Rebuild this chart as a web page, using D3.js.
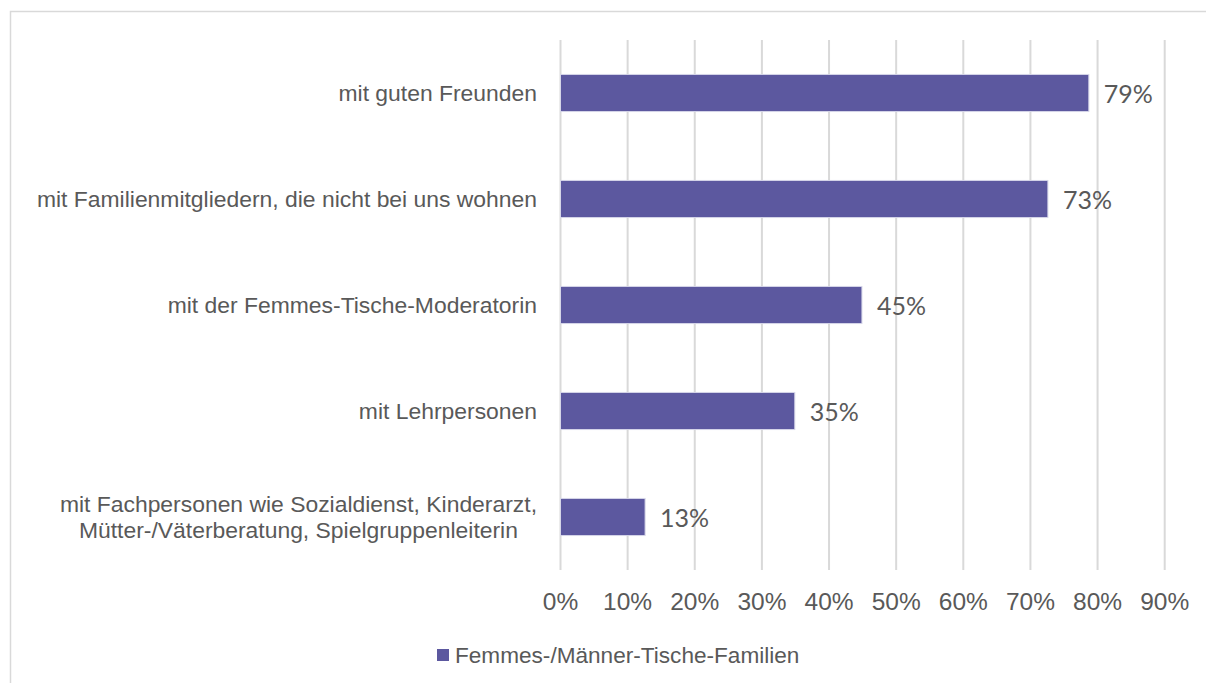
<!DOCTYPE html>
<html><head><meta charset="utf-8">
<script src="https://cdn.jsdelivr.net/npm/d3@7"></script>
<style>body{margin:0;background:#fff}</style>
</head><body>
<svg id="c" width="1206" height="683"></svg>
<script>
const categories = [
  ["mit guten Freunden"],
  ["mit Familienmitgliedern, die nicht bei uns wohnen"],
  ["mit der Femmes-Tische-Moderatorin"],
  ["mit Lehrpersonen"],
  ["mit Fachpersonen wie Sozialdienst, Kinderarzt,", "Mütter-/Väterberatung, Spielgruppenleiterin"]
];
const values = [0.787, 0.726, 0.449, 0.349, 0.126];
const ticks = [0,0.1,0.2,0.3,0.4,0.5,0.6,0.7,0.8,0.9];
const seriesName = "Femmes-/Männer-Tische-Familien";

const svg = d3.select("#c");
const narrow = "'Liberation Sans Narrow', 'Arial Narrow', 'Liberation Sans', Arial, sans-serif";
const textCol = "#595959";
const barCol = "#5c589f";

svg.append("rect").attr("x",10.5).attr("y",11.5).attr("width",1300).attr("height",800)
  .attr("fill","none").attr("stroke","#d9d9d9").attr("stroke-width",1.5);

const x = d3.scaleLinear().domain([0,0.9]).range([560.5,1164.7]);
const y = d3.scaleBand().domain(d3.range(categories.length)).range([40,570])
  .paddingInner(0.65).paddingOuter(0.325);

const g = svg.append("g");
g.selectAll("line.grid").data(ticks).join("line").attr("class","grid")
  .attr("x1",d=>x(d)).attr("x2",d=>x(d))
  .attr("y1",40).attr("y2",570).attr("stroke","#d9d9d9").attr("stroke-width",2);

g.selectAll("rect.bar").data(values).join("rect").attr("class","bar")
  .attr("x",x(0)).attr("y",(d,i)=>y(i)).attr("width",d=>x(d)-x(0)).attr("height",y.bandwidth())
  .attr("fill",barCol).attr("stroke","#d6d6e8").attr("stroke-width",1);

g.selectAll("text.val").data(values).join("text").attr("class","val")
  .attr("x",d=>x(d)+15).attr("y",(d,i)=>y(i)+y.bandwidth()/2+1).attr("dy","0.36em")
  .attr("font-family","Lato, sans-serif").attr("font-size",25).attr("fill",textCol)
  .text(d=>Math.round(d*100)+"%");

g.selectAll("text.tick").data(ticks).join("text").attr("class","tick")
  .attr("x",d=>x(d)).attr("y",601).attr("dy","0.36em").attr("text-anchor","middle")
  .attr("font-family",narrow).attr("font-size",24.5).attr("fill",textCol)
  .text(d=>Math.round(d*100)+"%");

categories.forEach((lines,i)=>{
  const cy = y(i)+y.bandwidth()/2;
  const t = g.append("text").attr("font-family",narrow).attr("font-size",22.9).attr("fill",textCol);
  const lh = 26;
  lines.forEach((l,j)=>{
    t.append("tspan").attr("y",cy+(j-(lines.length-1)/2)*lh).attr("dy","0.36em").text(l);
  });
  const spans = t.selectAll("tspan").nodes();
  const maxW = d3.max(spans,s=>s.getComputedTextLength());
  const cx = 537 - maxW/2;
  t.attr("text-anchor","middle").selectAll("tspan").attr("x",cx);
});

const leg = svg.append("g");
leg.append("rect").attr("x",437).attr("y",649).attr("width",12).attr("height",12).attr("fill",barCol);
leg.append("text").attr("x",455).attr("y",655).attr("dy","0.36em")
  .attr("font-family",narrow).attr("font-size",22.6).attr("fill",textCol).text(seriesName);
</script>
</body></html>
